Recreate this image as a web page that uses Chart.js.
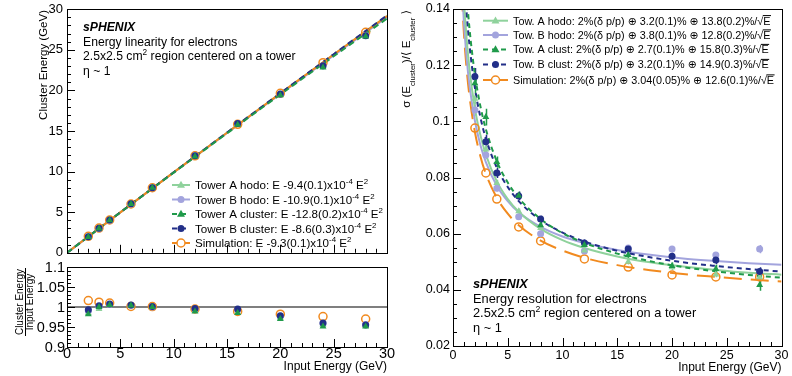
<!DOCTYPE html>
<html lang="en">
<head>
<meta charset="UTF-8">
<title>sPHENIX EMCal electron linearity and resolution</title>
<script src="https://cdn.jsdelivr.net/npm/chart.js"></script>
<style>
  html, body { margin: 0; padding: 0; background: #fff; }
  #wrap { position: relative; width: 792px; height: 376px; overflow: hidden; }
  #wrap canvas { position: absolute; }
  .ylab { position: absolute; left: 0; width: 65px; height: 16px; line-height: 16px; text-align: right;
    font: 14.5px 'Liberation Sans', Arial, sans-serif; color: #000; z-index: 2; }
</style>
</head>
<body>
<div id="wrap">
  <canvas id="lin" width="396" height="262" style="left:0;top:0"></canvas>
  <canvas id="ratio" width="396" height="114" style="left:0;top:262px"></canvas>
  <canvas id="res" width="396" height="376" style="left:396px;top:0"></canvas>
</div>
<script>
// beam energies (GeV)
const energies = [2, 3, 4, 6, 8, 12, 16, 20, 24, 28];

// tick values
const xTicks = [0, 5, 10, 15, 20, 25, 30];
const linYTicks = [0, 5, 10, 15, 20, 25, 30];
const ratioYTicks = [0.9, 0.95, 1, 1.05, 1.1];
const resYTicks = [0.02, 0.04, 0.06, 0.08, 0.1, 0.12, 0.14];

// cluster energy (GeV)
const linTowAHodo  = [1.97, 2.99, 4.02, 6.02, 8.00, 11.88, 15.79, 19.46, 22.92, 26.68];
const linTowBHodo  = [1.98, 3.00, 4.02, 6.02, 8.00, 11.94, 15.89, 19.54, 22.99, 26.77];
const linTowAClust = [1.96, 3.00, 4.02, 6.02, 8.00, 11.87, 15.76, 19.40, 22.82, 26.63];
const linTowBClust = [1.99, 3.01, 4.03, 6.03, 8.01, 11.96, 15.92, 19.56, 23.04, 26.74];
const linSim       = [2.03, 3.04, 4.04, 6.01, 8.01, 11.94, 15.82, 19.64, 23.42, 27.16];

// linearity fit lines
const linFitE = [0, 5, 10, 15, 20, 25, 30];
const linFitTowAHodo  = [0, 4.98, 9.91, 14.79, 19.62, 24.41, 29.15];
const linFitTowBHodo  = [0, 4.97, 9.89, 14.75, 19.56, 24.32, 29.02];
const linFitTowAClust = [0, 4.97, 9.87, 14.71, 19.49, 24.20, 28.85];
const linFitTowBClust = [0, 4.98, 9.91, 14.81, 19.66, 24.46, 29.23];
const linFitSim       = [0, 4.98, 9.91, 14.79, 19.63, 24.42, 29.16];

// cluster energy / input energy
const ratioTowAHodo  = [0.985, 0.995, 1.005, 1.003, 1.000, 0.990, 0.987, 0.973, 0.955, 0.953];
const ratioTowBHodo  = [0.990, 1.000, 1.006, 1.004, 1.000, 0.995, 0.993, 0.977, 0.958, 0.956];
const ratioTowAClust = [0.982, 1.000, 1.005, 1.004, 1.000, 0.989, 0.985, 0.970, 0.951, 0.951];
const ratioTowBClust = [0.993, 1.003, 1.0075, 1.005, 1.001, 0.9965, 0.995, 0.978, 0.960, 0.955];
const ratioSim       = [1.016, 1.012, 1.010, 1.0015, 1.001, 0.995, 0.989, 0.982, 0.976, 0.970];

// resolution sigma/E and errors
const resTowAHodo  = [0.108, 0.090, 0.078, 0.068, 0.062, 0.054, 0.050, 0.048, 0.0455, 0.0445];
const resTowBHodo  = [0.104, 0.088, 0.0762, 0.066, 0.060, 0.0538, 0.0549, 0.0545, 0.0524, 0.0545];
const resTowAClust = [0.1136, 0.1015, 0.0855, 0.0735, 0.063, 0.056, 0.0524, 0.0485, 0.0474, 0.0417];
const resTowBClust = [0.116, 0.0927, 0.0816, 0.0734, 0.0652, 0.0567, 0.0545, 0.052, 0.0506, 0.0465];
const resSim       = [0.0976, 0.0816, 0.0723, 0.0624, 0.0574, 0.051, 0.0481, 0.0453, 0.0446, 0.0446];
const errTowAHodo  = [0.002, 0.0015, 0.0012, 0.001, 0.001, 0.001, 0.001, 0.001, 0.001, 0.0012];
const errTowBHodo  = [0.002, 0.0015, 0.0012, 0.001, 0.001, 0.001, 0.001, 0.001, 0.001, 0.0015];
const errTowAClust = [0.0035, 0.003, 0.002, 0.0015, 0.0012, 0.0012, 0.0012, 0.0012, 0.0015, 0.002];
const errTowBClust = [0.003, 0.0025, 0.0018, 0.0015, 0.0012, 0.0012, 0.0012, 0.0012, 0.0015, 0.0015];

// resolution fit curves
const resFitE = [0.8, 1, 1.25, 1.5, 2, 2.5, 3, 4, 5, 6, 8, 10, 12, 15, 18, 21, 24, 27, 30];
const resFitTowAHodo  = [0.1588, 0.1431, 0.1291, 0.1188, 0.1046, 0.0951, 0.0882, 0.0786, 0.0723, 0.0678, 0.0617, 0.0577, 0.0549, 0.0519, 0.0498, 0.0483, 0.0471, 0.0461, 0.0454];
const resFitTowBHodo  = [0.1494, 0.1350, 0.1223, 0.1130, 0.1002, 0.0916, 0.0855, 0.0771, 0.0716, 0.0676, 0.0624, 0.0590, 0.0567, 0.0542, 0.0525, 0.0512, 0.0503, 0.0495, 0.0489];
const resFitTowAClust = [0.1798, 0.1615, 0.1453, 0.1333, 0.1167, 0.1054, 0.0972, 0.0858, 0.0782, 0.0727, 0.0652, 0.0602, 0.0567, 0.0529, 0.0502, 0.0481, 0.0466, 0.0453, 0.0443];
const resFitTowBClust = [0.1708, 0.1537, 0.1385, 0.1274, 0.1119, 0.1015, 0.0939, 0.0835, 0.0766, 0.0716, 0.0648, 0.0604, 0.0572, 0.0539, 0.0516, 0.0498, 0.0485, 0.0474, 0.0465];
const resFitSim       = [0.1455, 0.1311, 0.1184, 0.1091, 0.0962, 0.0876, 0.0813, 0.0728, 0.0671, 0.0630, 0.0575, 0.0540, 0.0514, 0.0488, 0.0470, 0.0456, 0.0446, 0.0437, 0.0430];

const FONT = "'Liberation Sans', Arial, 'DejaVu Sans', sans-serif";
Chart.defaults.font.family = FONT;
Chart.defaults.color = '#000';
Chart.defaults.animation = false;
Chart.defaults.events = [];

const cAh = '#8fd29c', cBh = '#a3a4dd', cAc = '#1f9a4a', cBc = '#222f88', cSim = '#f18a1f';

const pts = (xs, ys) => xs.map((x, i) => ({x, y: ys[i]}));

function markerSet(ys, color, style, errs) {
  return { data: pts(energies, ys), showLine: false, pointStyle: style,
    pointRadius: style === 'triangle' ? 4 : 3.5, pointBackgroundColor: color,
    pointBorderColor: color, pointBorderWidth: 0, errs };
}
function openSet(ys) {
  return { data: pts(energies, ys), showLine: false, pointStyle: 'circle', pointRadius: 4,
    pointBackgroundColor: 'rgba(0,0,0,0)', pointBorderColor: cSim, pointBorderWidth: 1.5 };
}
function fitSet(xs, ys, color, dash, width) {
  return { data: pts(xs, ys), showLine: true, pointRadius: 0, borderColor: color,
    borderWidth: width || 2, borderDash: dash, cubicInterpolationMode: 'monotone', fill: false };
}

// rich text helpers (superscript, subscript, bold-italic, sqrt)
function fontFor(kind, size) {
  const small = kind === 'sup' || kind === 'sub';
  return (kind === 'bi' ? 'italic bold ' : '') + (small ? size * 0.68 : size) + 'px ' + FONT;
}
function richWidth(ctx, parts, size) {
  let w = 0;
  for (const p of parts) {
    const [t, k] = Array.isArray(p) ? p : [p, ''];
    ctx.font = fontFor(k, size);
    w += ctx.measureText(k === 'root' ? '√' + t : t).width;
  }
  return w;
}
function drawRich(ctx, parts, x, y, size, subOff) {
  ctx.textAlign = 'left';
  ctx.textBaseline = 'alphabetic';
  let cx = x;
  for (const p of parts) {
    const [t, k] = Array.isArray(p) ? p : [p, ''];
    ctx.font = fontFor(k, size);
    if (k === 'root') {
      const wr = ctx.measureText('√').width;
      const wt = ctx.measureText(t).width;
      ctx.fillText('√', cx, y);
      ctx.fillText(t, cx + wr, y);
      ctx.fillRect(cx + wr - 0.5, y - size * 0.88, wt + 1, 1);
      cx += wr + wt;
    } else {
      const dy = k === 'sup' ? -size * 0.42 : k === 'sub' ? size * (subOff || 0.3) : 0;
      ctx.fillText(t, cx, y + dy);
      cx += ctx.measureText(t).width;
    }
  }
  return cx - x;
}
function drawMarker(ctx, style, x, y, color) {
  ctx.save();
  ctx.setLineDash([]);
  ctx.beginPath();
  if (style === 'triangle') {
    ctx.moveTo(x, y - 4.2); ctx.lineTo(x + 4, y + 2.8); ctx.lineTo(x - 4, y + 2.8); ctx.closePath();
    ctx.fillStyle = color; ctx.fill();
  } else if (style === 'open') {
    ctx.arc(x, y, 4, 0, Math.PI * 2);
    ctx.fillStyle = '#fff'; ctx.fill();
    ctx.strokeStyle = color; ctx.lineWidth = 1.5; ctx.stroke();
  } else {
    ctx.arc(x, y, 3.5, 0, Math.PI * 2);
    ctx.fillStyle = color; ctx.fill();
  }
  ctx.restore();
}
function drawLegend(ctx, items, x0, x1, xt, size) {
  for (const it of items) {
    ctx.save();
    ctx.strokeStyle = it.color; ctx.lineWidth = 2; ctx.setLineDash(it.dash);
    ctx.beginPath(); ctx.moveTo(x0, it.y); ctx.lineTo(x1, it.y); ctx.stroke();
    ctx.restore();
    drawMarker(ctx, it.marker, (x0 + x1) / 2, it.y, it.color);
    ctx.fillStyle = '#000';
    drawRich(ctx, it.text, xt, it.y + size * 0.36, size);
  }
}
function drawRotated(ctx, parts, x, yTop, size, subOff) {
  ctx.save();
  ctx.translate(x, yTop);
  ctx.rotate(-Math.PI / 2);
  const w = richWidth(ctx, parts, size);
  ctx.fillStyle = '#000';
  drawRich(ctx, parts, -w, 0, size, subOff);
  ctx.restore();
}

// ROOT-like frame with inward ticks
const frameTicks = {
  id: 'frameTicks',
  afterDatasetsDraw(chart, args, o) {
    const {ctx, chartArea: a} = chart;
    const x = chart.scales.x, y = chart.scales.y;
    ctx.save();
    ctx.strokeStyle = '#000';
    ctx.lineWidth = 1;
    ctx.setLineDash([]);
    ctx.beginPath();
    const nx = Math.round((x.max - x.min) / o.xMinor);
    for (let i = 0; i <= nx; i++) {
      const v = x.min + i * o.xMinor;
      const px = Math.round(x.getPixelForValue(v)) + 0.5;
      const q = (v - x.min) / o.xMajor;
      const major = Math.abs(q - Math.round(q)) < 1e-6;
      ctx.moveTo(px, a.bottom);
      ctx.lineTo(px, a.bottom - (major ? o.len : o.len / 2));
    }
    const ny = Math.round((y.max - y.min) / o.yMinor);
    for (let i = 0; i <= ny; i++) {
      const v = y.min + i * o.yMinor;
      const py = Math.round(y.getPixelForValue(v)) + 0.5;
      const q = (v - y.min) / o.yMajor;
      const major = Math.abs(q - Math.round(q)) < 1e-6;
      ctx.moveTo(a.left, py);
      ctx.lineTo(a.left + (major ? o.len : o.len / 2), py);
    }
    ctx.stroke();
    ctx.strokeRect(Math.round(a.left) + 0.5, Math.round(a.top) + 0.5,
      Math.round(a.right - a.left), Math.round(a.bottom - a.top));
    ctx.restore();
  }
};

// vertical error bars for datasets carrying errs
const errorBars = {
  id: 'errorBars',
  beforeDatasetsDraw(chart) {
    const {ctx} = chart;
    const y = chart.scales.y;
    ctx.save();
    chart.data.datasets.forEach((ds, i) => {
      if (!ds.errs) return;
      const meta = chart.getDatasetMeta(i);
      ctx.strokeStyle = ds.pointBackgroundColor;
      ctx.lineWidth = 1.5;
      ctx.beginPath();
      meta.data.forEach((pt, j) => {
        const v = ds.data[j].y, e = ds.errs[j];
        const px = Math.round(pt.x) + 0.5;
        ctx.moveTo(px, y.getPixelForValue(v - e));
        ctx.lineTo(px, y.getPixelForValue(v + e));
      });
      ctx.stroke();
    });
    ctx.restore();
  }
};

const numLabel = v => String(+(+v).toFixed(3));
const tickObjs = vals => vals.map(value => ({value, label: numLabel(value)}));

function xAxis(opts) {
  return {
    type: 'linear', min: 0, max: 30, display: opts.display,
    grid: {display: false, drawTicks: false}, border: {display: false},
    afterBuildTicks: s => { s.ticks = tickObjs(xTicks); },
    ticks: {display: opts.labels, autoSkip: false, maxRotation: 0,
      padding: opts.pad || 0, font: {size: opts.size, lineHeight: 1}, callback: numLabel},
    title: {display: !!opts.title, text: opts.title, align: 'end',
      font: {size: 12}, padding: {top: 0, bottom: opts.titlePad || 0}},
    afterFit: s => { s.height = opts.height; }
  };
}
function yAxis(opts) {
  return {
    type: 'linear', min: opts.min, max: opts.max,
    grid: {display: false, drawTicks: false}, border: {display: false},
    afterBuildTicks: s => { s.ticks = tickObjs(opts.ticks); },
    ticks: {display: opts.labels !== false, autoSkip: false, padding: opts.pad,
      font: {size: opts.size, lineHeight: 0.8}, callback: numLabel},
    afterFit: s => { s.width = opts.width; }
  };
}
const baseOpts = (padding) => ({
  responsive: false,
  layout: {padding, autoPadding: false},
  plugins: {legend: {display: false}, tooltip: {enabled: false}}
});

const sphenixText = (y0, line2) => [
  {y: y0, parts: [['sPHENIX', 'bi']]},
  {y: y0 + 14.8, parts: [line2]},
  {y: y0 + 29.4, parts: ['2.5x2.5 cm', ['2', 'sup'], ' region centered on a tower']},
  {y: y0 + 44, parts: ['η ~ 1']}
];

// ---------- linearity ----------
const linLegend = [
  {y: 185, color: cAh, dash: [], marker: 'triangle', text: ['Tower A hodo: E -9.4(0.1)x10', ['-4', 'sup'], ' E', ['2', 'sup']]},
  {y: 199.5, color: cBh, dash: [], marker: 'circle', text: ['Tower B hodo: E -10.9(0.1)x10', ['-4', 'sup'], ' E', ['2', 'sup']]},
  {y: 214, color: cAc, dash: [5, 4], marker: 'triangle', text: ['Tower A cluster: E -12.8(0.2)x10', ['-4', 'sup'], ' E', ['2', 'sup']]},
  {y: 228.5, color: cBc, dash: [5, 4], marker: 'circle', text: ['Tower B cluster: E -8.6(0.3)x10', ['-4', 'sup'], ' E', ['2', 'sup']]},
  {y: 243, color: cSim, dash: [], marker: 'open', text: ['Simulation: E -9.3(0.1)x10', ['-4', 'sup'], ' E', ['2', 'sup']]}
];
const linNotes = {
  id: 'linNotes',
  afterDraw(chart) {
    const ctx = chart.ctx;
    ctx.save();
    ctx.fillStyle = '#000';
    for (const l of sphenixText(31, 'Energy linearity for electrons')) drawRich(ctx, l.parts, 83, l.y, 12.2);
    drawLegend(ctx, linLegend, 172, 190, 195, 11.6);
    drawRotated(ctx, ['Cluster Energy (GeV)'], 47, 10, 11.5);
    ctx.restore();
  }
};
new Chart(document.getElementById('lin'), {
  type: 'scatter',
  data: {datasets: [
    markerSet(linTowAClust, cAc, 'triangle'),
    markerSet(linTowBClust, cBc, 'circle'),
    markerSet(linTowAHodo, cAh, 'triangle'),
    markerSet(linTowBHodo, cBh, 'circle'),
    openSet(linSim),
    fitSet(linFitE, linFitTowAClust, cAc, [6, 4]),
    fitSet(linFitE, linFitTowBClust, cBc, [6, 4]),
    fitSet(linFitE, linFitSim, cSim, []),
    fitSet(linFitE, linFitTowBHodo, cBh, []),
    fitSet(linFitE, linFitTowAHodo, cAh, [])
  ]},
  options: Object.assign(baseOpts({top: 8, right: 9, bottom: 4, left: 0}), {
    scales: {
      x: xAxis({display: false, labels: false, size: 13, height: 0}),
      y: yAxis({min: 0, max: 30, ticks: linYTicks, pad: 4, size: 13, width: 67})
    }
  }),
  plugins: [frameTicks, linNotes, {
    id: 'cfg', beforeInit(c) { c.options.plugins.frameTicks = {xMajor: 5, xMinor: 1, yMajor: 5, yMinor: 1, len: 8}; }
  }]
});

// ---------- ratio ----------
const ratioNotes = {
  id: 'ratioNotes',
  afterDraw(chart) {
    const ctx = chart.ctx;
    ctx.save();
    ctx.fillStyle = '#000';
    ctx.translate(0, -262);
    const cy = 302;
    ctx.font = '10px ' + FONT;
    ctx.textAlign = 'center';
    ctx.textBaseline = 'alphabetic';
    ctx.save();
    ctx.translate(23, cy);
    ctx.rotate(-Math.PI / 2);
    ctx.fillText('Cluster Energy', 0, 0);
    ctx.restore();
    ctx.fillRect(25, cy - 34, 1, 68);
    ctx.save();
    ctx.translate(33, cy);
    ctx.rotate(-Math.PI / 2);
    ctx.fillText('Input Energy', 0, 0);
    ctx.restore();
    ctx.restore();
  }
};
const ratioChart = new Chart(document.getElementById('ratio'), {
  type: 'scatter',
  data: {datasets: [
    markerSet(ratioTowAClust, cAc, 'triangle'),
    markerSet(ratioTowBClust, cBc, 'circle'),
    markerSet(ratioTowAHodo, cAh, 'triangle'),
    markerSet(ratioTowBHodo, cBh, 'circle'),
    openSet(ratioSim),
    fitSet([0, 30], [1, 1], '#000', [], 1.2)
  ]},
  options: Object.assign(baseOpts({top: 5, right: 9, bottom: 0, left: 0}), {
    scales: {
      x: xAxis({display: true, labels: true, size: 14.5, pad: 0, height: 29, title: 'Input Energy (GeV)', titlePad: 2}),
      y: yAxis({min: 0.9, max: 1.1, ticks: ratioYTicks, labels: false, pad: 2, size: 14.5, width: 67})
    }
  }),
  plugins: [frameTicks, ratioNotes, {
    id: 'cfg', beforeInit(c) { c.options.plugins.frameTicks = {xMajor: 5, xMinor: 1, yMajor: 0.05, yMinor: 0.01, len: 8}; }
  }]
});
// ratio y labels as page text, placed with the chart's y scale
const wrap = document.getElementById('wrap');
for (const v of ratioYTicks) {
  const d = document.createElement('div');
  d.className = 'ylab';
  d.textContent = numLabel(v);
  d.style.top = (262 + ratioChart.scales.y.getPixelForValue(v) - 8) + 'px';
  wrap.appendChild(d);
}

// ---------- resolution ----------
const resLegend = [
  {y: 20.7, color: cAh, dash: [], marker: 'triangle', text: ['Tow. A hodo: 2%(δ p/p) ⊕ 3.2(0.1)% ⊕ 13.8(0.2)%/', ['E', 'root']]},
  {y: 35, color: cBh, dash: [], marker: 'circle', text: ['Tow. B hodo: 2%(δ p/p) ⊕ 3.8(0.1)% ⊕ 12.8(0.2)%/', ['E', 'root']]},
  {y: 49.5, color: cAc, dash: [5, 4], marker: 'triangle', text: ['Tow. A clust: 2%(δ p/p) ⊕ 2.7(0.1)% ⊕ 15.8(0.3)%/', ['E', 'root']]},
  {y: 64.5, color: cBc, dash: [5, 4], marker: 'circle', text: ['Tow. B clust: 2%(δ p/p) ⊕ 3.2(0.1)% ⊕ 14.9(0.3)%/', ['E', 'root']]},
  {y: 80, color: cSim, dash: [], marker: 'open', text: ['Simulation: 2%(δ p/p) ⊕ 3.04(0.05)% ⊕ 12.6(0.1)%/', ['E', 'root']]}
];
const resNotes = {
  id: 'resNotes',
  afterDraw(chart) {
    const ctx = chart.ctx;
    ctx.save();
    ctx.translate(-396, 0);
    ctx.fillStyle = '#000';
    for (const l of sphenixText(288, 'Energy resolution for electrons')) drawRich(ctx, l.parts, 473, l.y, 12.8);
    drawLegend(ctx, resLegend, 483, 508, 513, 10.8);
    drawRotated(ctx, ['σ (E', ['cluster', 'sub'], ')/⟨ E', ['cluster', 'sub'], ' ⟩'], 410, 10, 11.5, 0.4);
    ctx.restore();
  }
};
new Chart(document.getElementById('res'), {
  type: 'scatter',
  data: {datasets: [
    markerSet(resTowAClust, cAc, 'triangle', errTowAClust),
    markerSet(resTowBClust, cBc, 'circle', errTowBClust),
    markerSet(resTowAHodo, cAh, 'triangle', errTowAHodo),
    markerSet(resTowBHodo, cBh, 'circle', errTowBHodo),
    openSet(resSim),
    fitSet(resFitE, resFitTowAClust, cAc, [5, 4]),
    fitSet(resFitE, resFitTowBClust, cBc, [5, 4]),
    fitSet(resFitE, resFitTowAHodo, cAh, []),
    fitSet(resFitE, resFitTowBHodo, cBh, []),
    fitSet(resFitE, resFitSim, cSim, [18, 9])
  ]},
  options: Object.assign(baseOpts({top: 9, right: 10, bottom: 0, left: 0}), {
    scales: {
      x: xAxis({display: true, labels: true, size: 12.5, pad: 3.5, height: 30, title: 'Input Energy (GeV)', titlePad: 1}),
      y: yAxis({min: 0.02, max: 0.14, ticks: resYTicks, pad: 3, size: 12.5, width: 57})
    }
  }),
  plugins: [frameTicks, errorBars, resNotes, {
    id: 'cfg', beforeInit(c) { c.options.plugins.frameTicks = {xMajor: 5, xMinor: 1, yMajor: 0.02, yMinor: 0.005, len: 8}; }
  }]
});
</script>
</body>
</html>
